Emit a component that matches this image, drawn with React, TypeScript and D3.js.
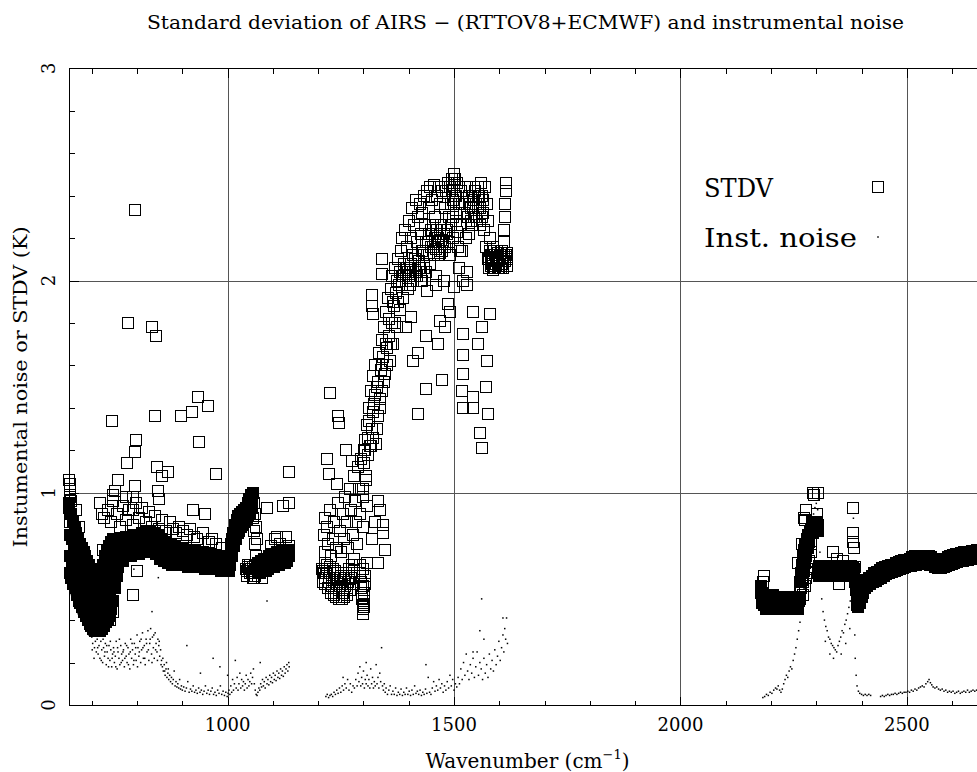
import React from "react";
import * as d3 from "d3";

type P = [number, number];

// ---------- axis definitions ----------
const X_DOMAIN: [number, number] = [650, 2675];
const Y_DOMAIN: [number, number] = [0, 3];
const X_MAJOR = [1000, 1500, 2000, 2500];
const Y_MAJOR = [0, 1, 2, 3];
const X_TICK_LABELS = ["1000", "1500", "2000", "2500"];
const Y_TICK_LABELS = ["0", "1", "2", "3"];

const TITLE = "Standard deviation of AIRS \u2212 (RTTOV8+ECMWF) and instrumental noise";
const Y_TITLE = "Instumental noise or STDV (K)";
const LEGEND = ["STDV", "Inst. noise"];

// ---------- STDV (squares) ----------
// densely over-plotted channels (these overlap into a solid band in the source)
const stdvBand1: P[] = [
  [650,0.95],[651,0.62],[652,0.80],[653,0.70],[654,0.90],[655,0.60],[656,0.78],[657,0.68],[658,0.86],[659,0.57],
  [660,0.74],[661,0.64],[662,0.84],[663,0.55],[664,0.71],[665,0.62],[666,0.81],[667,0.52],[668,0.68],[669,0.60],
  [670,0.78],[671,0.49],[672,0.66],[673,0.58],[674,0.76],[675,0.48],[676,0.64],[677,0.56],[678,0.74],[679,0.46],
  [680,0.62],[681,0.54],[682,0.72],[683,0.44],[684,0.60],[685,0.52],[686,0.70],[687,0.42],[688,0.58],[689,0.50],
  [690,0.68],[691,0.40],[692,0.56],[693,0.48],[694,0.66],[695,0.38],[696,0.54],[697,0.46],[698,0.64],[699,0.37],
  [700,0.52],[701,0.44],[702,0.61],[703,0.36],[704,0.50],[705,0.43],[706,0.58],[707,0.35],[708,0.48],[709,0.42],
  [710,0.55],[711,0.35],[712,0.47],[713,0.41],[714,0.55],[715,0.35],[716,0.48],[717,0.42],[718,0.58],[719,0.35],
  [720,0.50],[721,0.43],[722,0.62],[723,0.36],[724,0.52],[725,0.45],[726,0.66],[727,0.37],[728,0.55],[729,0.47],
  [730,0.70],[731,0.39],[732,0.58],[733,0.49],[734,0.73],[735,0.40],[736,0.61],[737,0.51],[738,0.75],[739,0.42],
  [740,0.63],[741,0.53],[742,0.77],[743,0.45],[744,0.66],[745,0.56],[746,0.78],[747,0.49],[748,0.68],[749,0.59],
  [750,0.78],[751,0.55],[752,0.70],[753,0.62],[754,0.78],[755,0.61],[756,0.72],[757,0.66],[758,0.78],[759,0.65],
  [760,0.73],[761,0.68],
  [763,0.73],[766,0.78],[769,0.68],[772,0.74],[775,0.79],[778,0.70],[781,0.75],[784,0.79],
  [787,0.70],[790,0.75],[793,0.80],[796,0.71],[799,0.76],[802,0.80],[805,0.71],[808,0.76],[811,0.81],[814,0.72],
  [817,0.77],[820,0.82],[823,0.72],[826,0.77],[829,0.82],[832,0.72],[835,0.77],[838,0.81],[841,0.71],[844,0.76],
  [847,0.80],[850,0.69],[853,0.74],[856,0.78],[859,0.68],[862,0.73],[865,0.77],[868,0.67],[871,0.72],[874,0.76],
  [877,0.66],[880,0.71],[883,0.75],[886,0.66],[889,0.70],[892,0.74],[895,0.66],[898,0.70],[901,0.74],[904,0.66],
  [907,0.70],[910,0.73],[913,0.65],[916,0.69],[919,0.73],[922,0.65],[925,0.69],[928,0.73],[931,0.65],[934,0.69],
  [937,0.72],[940,0.65],[943,0.68],[946,0.72],[949,0.64],[952,0.68],[955,0.71],[958,0.64],[961,0.68],[964,0.71],
  [967,0.64],[970,0.67],[973,0.70],[976,0.64],[979,0.67],[982,0.70],[985,0.63],[988,0.66],[991,0.69],[994,0.63],
  [997,0.66],[1000,0.69],[1002,0.63],[1004,0.70],[1006,0.66],[1008,0.76],[1010,0.70],[1012,0.81],[1014,0.75],[1016,0.85],
  [1018,0.78],[1020,0.87],[1022,0.81],[1024,0.89],[1026,0.82],[1028,0.90],[1030,0.84],[1032,0.91],[1034,0.85],[1036,0.92],
  [1038,0.86],[1040,0.93],[1042,0.87],[1044,0.95],[1046,0.89],[1048,0.97],[1050,0.90],[1052,0.99],[1054,0.93],[1056,1.00],
  [1066,0.62],[1068,0.67],[1070,0.64],[1072,0.62],[1074,0.68],[1076,0.65],[1078,0.63],[1080,0.69],[1082,0.65],[1084,0.63],
  [1086,0.69],[1088,0.66],[1090,0.64],[1092,0.70],[1094,0.67],[1096,0.65],[1098,0.71],[1100,0.67],[1102,0.65],[1104,0.71],
  [1106,0.68],[1108,0.66],[1110,0.72],[1112,0.68],[1114,0.66],[1116,0.72],[1118,0.69],[1120,0.67],[1122,0.73],[1124,0.69],
  [1126,0.67],[1128,0.73],[1130,0.70],[1132,0.68],[1134,0.73],[1136,0.70],
  [764.5,0.76],[767.5,0.71],[770.5,0.77],[773.5,0.72],[776.5,0.77],[779.5,0.72],[782.5,0.78],[785.5,0.73],[788.5,0.78],[791.5,0.73],
  [794.5,0.78],[797.5,0.74],[800.5,0.79],[803.5,0.74],[806.5,0.79],[809.5,0.74],[812.5,0.80],[815.5,0.75],[818.5,0.80],[821.5,0.75],
  [824.5,0.80],[827.5,0.75],[830.5,0.80],[833.5,0.74],[836.5,0.79],[839.5,0.74],[842.5,0.79],[845.5,0.73],[848.5,0.78],[851.5,0.72],
  [854.5,0.77],[857.5,0.71],[860.5,0.76],[863.5,0.70],[866.5,0.75],[869.5,0.69],[872.5,0.74],[875.5,0.69],[878.5,0.73],[881.5,0.68],
  [884.5,0.73],[887.5,0.68],[890.5,0.72],[893.5,0.68],[896.5,0.72],[899.5,0.68],[902.5,0.72],[905.5,0.67],[908.5,0.72],[911.5,0.67],
  [914.5,0.71],[917.5,0.67],[920.5,0.71],[923.5,0.67],[926.5,0.71],[929.5,0.67],[932.5,0.70],[935.5,0.66],[938.5,0.70],[941.5,0.66],
  [944.5,0.70],[947.5,0.66],[950.5,0.70],[953.5,0.66],[956.5,0.69],[959.5,0.66],[962.5,0.69],[965.5,0.65],[968.5,0.69],[971.5,0.65],
  [974.5,0.68],[977.5,0.65],[980.5,0.68],[983.5,0.65],[986.5,0.68],[989.5,0.64],[992.5,0.67],[995.5,0.64],[998.5,0.67],
  [1003,0.66],[1005,0.70],[1007,0.72],[1009,0.78],[1011,0.75],[1013,0.80],[1015,0.79],[1017,0.83],[1019,0.82],[1021,0.85],
  [1023,0.85],[1025,0.87],[1027,0.86],[1029,0.88],[1031,0.87],[1033,0.89],[1035,0.88],[1037,0.90],[1039,0.89],[1041,0.91],
  [1043,0.90],[1045,0.93],[1047,0.92],[1049,0.95],[1051,0.94],[1053,0.97],
  [1065,0.65],[1067,0.63],[1069,0.65],[1071,0.66],[1073,0.64],[1075,0.66],[1077,0.67],[1079,0.65],[1081,0.67],[1083,0.68],
  [1085,0.66],[1087,0.68],[1089,0.69],[1091,0.67],[1093,0.69],[1095,0.70],[1097,0.68],[1099,0.70],[1101,0.70],[1103,0.68],
  [1105,0.70],[1107,0.71],[1109,0.69],[1111,0.71],[1113,0.71],[1115,0.69],[1117,0.71],[1119,0.72],[1121,0.70],[1123,0.72],
  [1125,0.72],[1127,0.71],[1129,0.72],[1131,0.73],[1133,0.71],[1135,0.72]
];

// stacked but separately visible channels of band 1
const stdvBand1Column: P[] = [
  [650,1.06],[651,1.02],[652,0.98],[650,0.93],[652,0.90],[651,0.86],[653,1.04],[654,0.96],
  [1057,0.88],[1058,0.95],[1059,0.82],[1060,0.90],[1061,0.76],[1062,0.84],[1063,0.70],[1064,0.78],
  [1040,0.64],[1043,0.61],[1046,0.66],[1049,0.62],[1052,0.64],[1055,0.60],[1058,0.63],[1061,0.66],[1060,0.61],
  [1042,0.63],[1044,0.65],[1047,0.64],[1050,0.66],[1053,0.62],[1056,0.65],[1059,0.60],[1062,0.64],[1064,0.66]
];

const stdvBand1Scatter: P[] = [
  [796,2.33],[780,1.80],[833,1.78],[842,1.74],[745,1.34],[840,1.36],[897,1.36],[922,1.38],[935,1.45],[957,1.41],
  [937,1.24],[974,1.09],[1136,1.10],[798,1.25],[796,1.19],[778,1.14],[844,1.12],[855,1.08],[869,1.10],[758,1.06],
  [800,0.63],[791,0.52],[924,0.92],[950,0.90],[965,0.78],[1087,0.93],[1122,0.94],[1136,0.95],[1109,0.79],[1136,0.75],
  [1076,0.60],[747,0.99],[723,0.90],[725,0.73],[725,0.66],[730,0.70],[847,1.01],[849,0.97],[880,0.83],[902,0.82],[925,0.79],
  [776,0.98],[791,0.98],[796,1.03],[791,0.92],[752,1.01],[747,0.96],
  [718,0.95],[726,0.88],[735,0.92],[742,0.86],[755,0.90],[762,0.84],[768,0.94],[775,0.87],[783,0.92],[790,0.85],
  [798,0.95],[805,0.88],[812,0.93],[820,0.86],[826,0.91],[834,0.84],[840,0.89],[848,0.83],[856,0.87],[864,0.82],
  [872,0.86],[885,0.81],[892,0.84],[910,0.80],[918,0.83],[932,0.78],[945,0.81],[958,0.77],[975,0.76],[988,0.74],
  [1096,0.75],[1104,0.78],[1115,0.76],[1128,0.79],[666,0.92],[672,0.84],[740,0.40],[746,0.44]
];

const stdvBand2: P[] = [
  [1208,0.64],[1210,0.58],[1212,0.62],[1214,0.67],[1216,0.57],[1218,0.62],[1220,0.66],[1222,0.55],[1224,0.60],[1226,0.65],
  [1228,0.53],[1230,0.59],[1232,0.64],[1234,0.52],[1236,0.58],[1238,0.63],[1240,0.51],[1242,0.57],[1244,0.62],[1246,0.50],
  [1248,0.56],[1250,0.61],[1252,0.50],[1254,0.55],[1256,0.60],[1258,0.51],[1260,0.56],[1262,0.62],[1264,0.52],[1266,0.58],
  [1268,0.64],[1270,0.54],[1272,0.60],[1274,0.66],[1276,0.57],[1278,0.63],[1280,0.69],
  [1292,0.66],[1293,0.62],[1294,0.58],[1295,0.55],[1296,0.52],[1297,0.50],[1298,0.47],[1299,0.45],[1300,0.43],[1301,0.49],
  [1302,0.53],[1303,0.57],[1304,0.61],[1300,0.64],[1298,0.56],[1302,0.46],
  [1212,0.80],[1214,0.72],[1216,0.88],[1220,0.84],[1222,0.76],[1226,0.92],[1228,0.70],[1232,0.78],[1236,0.86],[1240,0.74],
  [1244,0.95],[1248,0.82],[1250,0.72],[1254,0.90],[1258,0.78],[1260,0.98],[1264,0.86],[1266,0.74],[1270,1.02],[1272,0.92],
  [1276,0.80],[1278,1.08],[1282,0.96],[1284,0.86],[1286,0.76],[1288,1.12],[1290,1.02],[1292,0.90],[1295,1.16],[1298,0.98],
  [1300,0.84],[1302,1.20],[1305,1.06],[1307,0.94],
  [1300,1.02],[1302,1.14],[1304,1.25],[1306,1.08],[1308,1.32],[1310,1.18],[1312,1.40],[1314,1.22],[1316,1.48],[1318,1.30],
  [1320,1.55],[1322,1.26],[1324,1.42],[1326,1.60],[1328,1.23],[1330,1.50],[1332,1.36],[1334,1.66],[1336,1.44],[1338,1.58],
  [1340,1.72],[1342,1.48],[1344,1.64],[1346,1.78],[1348,1.56],[1350,1.85],[1352,1.68],[1354,1.92],[1356,1.74],[1358,1.62],
  [1360,1.96],[1362,1.80],[1364,2.02],[1366,1.70],[1368,1.88],[1370,2.06],[1372,1.94],[1374,1.78],[1376,2.10],[1378,1.98],
  [1380,1.86],[1382,2.14],[1384,2.00],[1386,2.20],[1388,1.92],[1390,2.08],[1392,2.24],[1394,2.02],[1396,2.16],[1398,1.96],
  [1400,2.28],[1402,2.06],[1404,2.20],[1406,2.00],[1408,2.34],[1410,2.12],[1412,2.26],[1414,2.02],[1416,2.38],[1418,2.18],
  [1420,2.30],[1422,2.06],[1424,2.36],[1426,2.22],[1428,2.00],[1430,2.32],[1432,2.14],[1434,2.40],[1436,2.26],[1438,2.04],
  [1440,2.42],[1442,2.18],[1444,2.34],[1446,2.08],[1448,2.44],[1450,2.24],[1452,2.38],[1454,2.16],[1456,2.45],[1458,2.30],
  [1460,2.02],[1462,2.40],[1464,2.20],[1466,2.44],[1468,2.14],[1470,2.36],[1472,2.26],[1474,2.42],[1476,2.18],[1478,2.00],
  [1480,2.34],[1482,2.42],[1484,2.22],[1486,2.46],[1488,2.30],[1490,2.12],[1492,2.44],[1494,2.36],[1496,2.48],[1498,2.20],
  [1500,2.50],[1502,2.40],[1504,2.28],[1506,2.46],[1508,2.16],[1510,2.36],[1512,2.06],[1514,2.26],[1516,2.42],[1518,2.14],
  [1520,2.00],[1522,2.32],[1524,2.44],[1526,2.20],[1528,2.04],[1530,2.30],[1532,2.40],[1534,2.22],[1536,2.44],[1538,2.34],
  [1540,2.26],[1542,2.40],[1544,2.30],[1546,2.42],[1548,2.36],[1550,2.28],[1552,2.44],[1554,2.34],[1556,2.40],[1558,2.26],
  [1560,2.46],[1562,2.30],[1564,2.38],[1566,2.24],[1568,2.44],[1570,2.16],[1572,2.36],[1574,2.10],[1576,2.28],[1578,2.06],
  [1580,2.20],[1582,2.12],[1584,2.08],[1586,2.16],[1588,2.06],[1590,2.12],[1592,2.08],[1594,2.14],[1596,2.06],[1598,2.10],
  [1600,2.08],[1602,2.12],[1604,2.06],[1606,2.14],[1608,2.09],[1610,2.18],[1611,2.24],[1612,2.30],[1613,2.36],[1614,2.42],
  [1615,2.46],[1616,2.11],[1617,2.07],[1618,2.13],
  [1303,1.20],[1309,1.26],[1313,1.34],[1317,1.22],[1321,1.38],[1325,1.46],[1329,1.30],[1333,1.52],[1337,1.40],[1341,1.60],
  [1345,1.52],[1349,1.70],[1353,1.60],[1357,1.82],[1361,1.70],[1365,1.90],[1369,1.80],[1373,2.00],[1377,1.90],[1381,2.04],
  [1385,1.98],[1389,2.04],[1393,2.00],[1397,2.06],[1401,2.02],[1405,2.08],[1409,2.04],[1413,2.10],[1417,2.04],[1421,2.12],
  [1425,2.06],[1429,2.14],[1433,2.08],[1437,2.18],[1441,2.12],[1445,2.22],[1449,2.16],[1453,2.26],[1457,2.18],[1461,2.24],
  [1465,2.16],[1469,2.22],[1473,2.14],[1477,2.22],[1481,2.16],[1485,2.24],[1489,2.18],[1493,2.26],[1497,2.30],[1501,2.36],
  [1505,2.32],
  [1211,0.63],[1215,0.60],[1219,0.64],[1223,0.58],[1227,0.62],[1231,0.56],[1235,0.60],[1239,0.55],[1243,0.59],[1247,0.54],
  [1251,0.58],[1255,0.53],[1259,0.58],[1263,0.55],[1267,0.60],[1271,0.57],[1275,0.62],
  [1386,2.02],[1390,2.06],[1394,2.00],[1398,2.04],[1402,1.98],[1406,2.05],[1410,2.00],[1414,2.07],[1418,2.02],[1422,2.09],
  [1426,2.04],[1430,2.00],[1434,2.06],
  [1456,2.12],[1458,2.20],[1460,2.15],[1462,2.24],[1464,2.12],[1466,2.18],[1468,2.22],[1470,2.13],[1472,2.19],
  [1495,2.42],[1497,2.38],[1499,2.45],[1501,2.44],[1503,2.48],[1505,2.40],
  [1533,2.36],[1537,2.28],[1541,2.34],[1545,2.38],[1549,2.30],[1553,2.40],[1557,2.34],[1561,2.40],[1565,2.32],
  [1577,2.10],[1579,2.14],[1581,2.07],[1583,2.12],[1585,2.05],[1587,2.10],[1589,2.14],[1591,2.06],[1593,2.11],[1595,2.09],
  [1597,2.13],[1599,2.06],[1601,2.10],[1603,2.13],[1605,2.08],[1607,2.11],[1609,2.06],[1611,2.12],[1613,2.09],[1615,2.12],
  [1617,2.10]
];

const stdvBand2Scatter: P[] = [
  [1226,1.47],[1244,1.36],[1245,1.33],[1220,1.16],[1224,1.09],[1261,1.20],[1274,1.15],[1241,1.04],[1319,1.88],[1321,1.84],
  [1319,1.93],[1341,2.10],[1341,2.03],[1332,0.67],[1348,0.73],[1343,0.81],[1343,0.85],[1332,0.96],[1336,0.92],[1308,0.67],
  [1318,0.78],[1325,0.86],[1420,1.66],[1438,1.74],[1465,1.70],[1473,1.53],[1438,1.49],[1420,1.37],[1487,1.89],[1469,1.81],
  [1480,1.78],[1520,1.75],[1520,1.65],[1520,1.56],[1518,1.48],[1520,1.40],[1542,1.40],[1542,1.45],[1570,1.50],[1575,1.37],
  [1557,1.28],[1561,1.21],[1561,1.78],[1553,1.70],[1572,1.62],[1542,1.85],[1580,1.84],[1491,1.85],[1513,2.14],[1506,2.23],
  [1500,1.97],[1528,1.98],[1460,1.98],[1440,1.95],[1405,1.83],[1395,1.78],[1410,1.62]
];

// densely over-plotted channels of band 3
const stdvBand3: P[] = [
  [2178,0.56],[2180,0.50],[2182,0.53],[2184,0.47],[2186,0.51],[2188,0.45],[2190,0.49],[2192,0.52],[2194,0.45],[2196,0.48],
  [2198,0.52],[2200,0.45],[2202,0.49],[2204,0.52],[2206,0.45],[2208,0.48],[2210,0.51],[2212,0.45],[2214,0.48],[2216,0.51],
  [2218,0.45],[2220,0.48],[2222,0.51],[2224,0.45],[2226,0.48],[2228,0.51],[2230,0.45],[2232,0.48],[2234,0.51],[2236,0.45],
  [2238,0.47],[2240,0.51],[2242,0.45],[2244,0.47],[2246,0.51],[2248,0.45],[2250,0.47],[2252,0.50],[2254,0.45],[2256,0.47],
  [2258,0.50],[2260,0.45],[2262,0.49],
  [2264,0.58],[2266,0.62],[2268,0.66],[2270,0.70],[2272,0.63],[2273,0.73],[2275,0.67],[2276,0.76],[2278,0.70],[2279,0.78],
  [2281,0.74],[2282,0.80],[2284,0.77],[2286,0.82],[2290,0.84],
  [2289,0.83],[2291,0.86],[2292,0.81],[2293,0.85],[2294,0.83],[2295,0.86],[2296,0.82],[2297,0.85],[2298,0.83],[2299,0.86],
  [2300,0.82],[2301,0.85],[2302,0.83],[2303,0.85],[2304,0.82],
  [2305,0.655],[2307,0.61],[2309,0.63],[2311,0.655],[2313,0.61],[2315,0.63],[2317,0.655],[2319,0.61],[2321,0.63],[2323,0.655],
  [2325,0.61],[2327,0.63],[2329,0.655],[2331,0.61],[2333,0.63],[2335,0.655],[2337,0.61],[2339,0.63],[2341,0.655],[2343,0.61],
  [2345,0.63],[2347,0.655],[2349,0.61],[2351,0.63],[2353,0.655],[2355,0.61],[2357,0.63],[2359,0.655],[2361,0.61],[2363,0.63],
  [2365,0.655],[2367,0.61],[2369,0.63],[2371,0.655],[2373,0.61],[2375,0.63],[2377,0.655],[2379,0.61],[2381,0.63],[2383,0.64],
  [2385,0.58],[2387,0.54],[2389,0.50],[2390,0.47],
  [2392,0.46],[2394,0.50],[2396,0.48],[2398,0.53],[2400,0.51],[2402,0.56],[2404,0.53],[2406,0.575],[2408,0.55],[2410,0.59],
  [2413,0.56],[2416,0.60],[2419,0.57],[2422,0.61],[2425,0.58],[2428,0.62],[2431,0.585],[2434,0.625],[2437,0.595],[2440,0.635],
  [2443,0.60],[2446,0.645],[2449,0.61],[2452,0.65],[2455,0.615],[2458,0.655],[2461,0.62],[2464,0.66],[2467,0.625],[2470,0.66],
  [2473,0.63],[2476,0.67],[2479,0.635],[2482,0.675],[2485,0.64],[2488,0.68],[2491,0.645],[2494,0.685],[2497,0.65],[2500,0.685],
  [2503,0.655],[2506,0.69],[2509,0.655],[2512,0.695],[2515,0.66],[2518,0.70],[2521,0.66],[2524,0.70],[2527,0.665],[2530,0.70],
  [2533,0.665],[2536,0.70],[2539,0.665],[2542,0.70],[2545,0.665],[2548,0.70],[2551,0.66],[2554,0.695],[2557,0.66],[2560,0.69],
  [2563,0.65],[2566,0.685],[2569,0.645],[2572,0.68],[2575,0.645],[2578,0.685],[2581,0.65],[2584,0.69],[2587,0.655],[2590,0.695],
  [2593,0.66],[2596,0.70],[2599,0.665],[2602,0.705],[2605,0.67],[2608,0.71],[2611,0.675],[2614,0.71],[2617,0.68],[2620,0.715],
  [2623,0.68],[2626,0.72],[2629,0.685],[2632,0.72],[2635,0.685],[2638,0.72],[2641,0.69],[2644,0.725],[2647,0.69],[2650,0.725],
  [2653,0.69],[2656,0.73],[2659,0.695],[2662,0.73],[2665,0.70],
  [2179,0.53],[2181,0.48],[2183,0.51],[2185,0.49],[2187,0.47],[2189,0.51],[2191,0.47],[2193,0.49],[2195,0.51],[2197,0.46],
  [2199,0.49],[2201,0.51],[2203,0.46],[2205,0.49],[2207,0.51],[2209,0.46],[2211,0.49],[2213,0.51],[2215,0.46],[2217,0.49],
  [2219,0.51],[2221,0.46],[2223,0.49],[2225,0.51],[2227,0.46],[2229,0.49],[2231,0.51],[2233,0.46],[2235,0.49],[2237,0.50],
  [2239,0.46],[2241,0.49],[2243,0.50],[2245,0.46],[2247,0.49],[2249,0.50],[2251,0.46],[2253,0.48],[2255,0.50],[2257,0.46],
  [2259,0.48],[2261,0.51],
  [2306,0.635],[2308,0.645],[2310,0.62],[2312,0.635],[2314,0.645],[2316,0.62],[2318,0.635],[2320,0.645],[2322,0.62],[2324,0.635],
  [2326,0.645],[2328,0.62],[2330,0.635],[2332,0.645],[2334,0.62],[2336,0.635],[2338,0.645],[2340,0.62],[2342,0.635],[2344,0.645],
  [2346,0.62],[2348,0.635],[2350,0.645],[2352,0.62],[2354,0.635],[2356,0.645],[2358,0.62],[2360,0.635],[2362,0.645],[2364,0.62],
  [2366,0.635],[2368,0.645],[2370,0.62],[2372,0.635],[2374,0.645],[2376,0.62],[2378,0.635],[2380,0.645],[2382,0.62],[2384,0.61],
  [2393,0.48],[2395,0.49],[2397,0.51],[2399,0.52],[2401,0.535],[2403,0.545],[2405,0.555],[2407,0.56],[2409,0.57],[2411.5,0.575],
  [2414.5,0.58],[2417.5,0.585],[2420.5,0.59],[2423.5,0.595],[2426.5,0.60],[2429.5,0.605],[2432.5,0.605],[2435.5,0.61],[2438.5,0.615],[2441.5,0.62],
  [2444.5,0.625],[2447.5,0.625],[2450.5,0.63],[2453.5,0.635],[2456.5,0.635],[2459.5,0.64],[2462.5,0.64],[2465.5,0.645],[2468.5,0.645],[2471.5,0.65],
  [2474.5,0.65],[2477.5,0.655],[2480.5,0.655],[2483.5,0.66],[2486.5,0.66],[2489.5,0.665],[2492.5,0.665],[2495.5,0.67],[2498.5,0.67],[2501.5,0.67],
  [2504.5,0.675],[2507.5,0.675],[2510.5,0.675],[2513.5,0.68],[2516.5,0.68],[2519.5,0.68],[2522.5,0.685],[2525.5,0.685],[2528.5,0.685],[2531.5,0.685],
  [2534.5,0.685],[2537.5,0.685],[2540.5,0.685],[2543.5,0.685],[2546.5,0.685],[2549.5,0.68],[2552.5,0.68],[2555.5,0.675],[2558.5,0.675],[2561.5,0.67],
  [2564.5,0.665],[2567.5,0.665],[2570.5,0.66],[2573.5,0.66],[2576.5,0.665],[2579.5,0.665],[2582.5,0.67],[2585.5,0.67],[2588.5,0.675],[2591.5,0.68],
  [2594.5,0.68],[2597.5,0.685],[2600.5,0.685],[2603.5,0.69],[2606.5,0.69],[2609.5,0.695],[2612.5,0.695],[2615.5,0.695],[2618.5,0.70],[2621.5,0.70],
  [2624.5,0.70],[2627.5,0.705],[2630.5,0.705],[2633.5,0.705],[2636.5,0.705],[2639.5,0.71],[2642.5,0.71],[2645.5,0.71],[2648.5,0.71],[2651.5,0.71],
  [2654.5,0.715],[2657.5,0.715],[2660.5,0.715],[2663.5,0.715]
];

// individually visible squares at the foot of the band-3 rise
const stdvBand3Rise: P[] = [
  [2263,0.53],[2265,0.50],[2267,0.55],[2269,0.59],[2271,0.52],[2274,0.56],[2277,0.60],[2280,0.64],[2283,0.68],[2288,0.72]
];

const stdvBand3Scatter: P[] = [
  [2292,1.00],[2303,1.00],[2296,0.99],[2277,0.92],[2301,0.90],[2275,0.87],[2273,0.88],[2381,0.93],[2381,0.81],[2381,0.77],
  [2383,0.74],[2337,0.72],[2350,0.57],[2385,0.65],[2184,0.61],[2182,0.58],[2268,0.76],[2259,0.67],[2288,0.76],[2345,0.69],
  [2360,0.68],[2270,0.58],[2280,0.62]
];

// ---------- Instrumental noise (dots) ----------
const noiseBand1: P[] = [
  [652,0.56],[655,0.52],[658,0.58],[661,0.50],[664,0.47],[667,0.52],[670,0.45],[673,0.48],[676,0.42],[679,0.44],
  [682,0.40],[685,0.38],[688,0.36],[691,0.37],[694,0.33],[697,0.34],[700,0.32],[702,0.29],[704,0.33],[706,0.27],
  [708,0.30],[710,0.25],[712,0.31],[714,0.24],[716,0.28],[718,0.22],[720,0.30],[722,0.26],[724,0.20],[726,0.27],
  [728,0.23],[730,0.29],[732,0.19],[734,0.25],[736,0.22],[738,0.28],[740,0.21],[742,0.26],[744,0.18],[746,0.24],
  [748,0.27],[750,0.20],[752,0.23],[754,0.30],[756,0.17],[758,0.25],[760,0.22],[762,0.19],[764,0.28],[766,0.24],
  [768,0.21],[770,0.26],[772,0.18],[774,0.29],[776,0.23],[778,0.20],[780,0.27],[782,0.24],[784,0.17],[786,0.31],
  [788,0.22],[790,0.26],[792,0.19],[794,0.29],[796,0.24],[798,0.21],[800,0.33],[802,0.27],[804,0.23],[806,0.30],
  [808,0.20],[810,0.26],[812,0.34],[814,0.22],[816,0.28],[818,0.19],[820,0.31],[822,0.25],[824,0.35],[826,0.21],
  [828,0.29],[830,0.36],[832,0.24],[834,0.32],[836,0.27],[838,0.22],[840,0.34],[842,0.29],[844,0.25],[846,0.31],
  [848,0.28],[850,0.23],[852,0.26],[854,0.21],[856,0.18],[858,0.16],[860,0.19],[862,0.14],[864,0.17],[866,0.13],
  [868,0.15],[870,0.12],[872,0.14],[874,0.11],[876,0.13],[878,0.10],[880,0.12],[882,0.16],[884,0.09],[886,0.11],
  [888,0.085],[890,0.10],[892,0.08],[894,0.12],[896,0.075],[898,0.09],[900,0.07],[903,0.085],[906,0.065],[909,0.08],
  [912,0.11],[915,0.06],[918,0.075],[921,0.065],[924,0.09],[927,0.06],[930,0.07],[933,0.055],[936,0.08],[939,0.06],
  [942,0.07],[945,0.05],[948,0.065],[951,0.09],[954,0.055],[957,0.07],[960,0.05],[963,0.065],[966,0.08],[969,0.05],
  [972,0.06],[975,0.045],[978,0.07],[981,0.055],[984,0.09],[987,0.05],[990,0.065],[993,0.045],[996,0.06],[999,0.04],
  [1001,0.055],[1003,0.07],[1005,0.05],[1007,0.09],[1009,0.06],[1011,0.12],[1013,0.07],[1015,0.10],[1017,0.21],[1019,0.08],
  [1021,0.13],[1023,0.07],[1025,0.10],[1027,0.15],[1029,0.08],[1031,0.12],[1033,0.09],[1035,0.11],[1037,0.07],[1039,0.10],
  [1041,0.14],[1043,0.08],[1045,0.12],[1047,0.09],[1049,0.11],[1051,0.15],[1053,0.10],[1055,0.13],[1057,0.17],[1059,0.10],
  [1061,0.07],[1063,0.05],[1065,0.045],[1067,0.06],[1069,0.08],[1071,0.07],[1073,0.10],[1075,0.085],[1077,0.12],[1079,0.09],
  [1081,0.11],[1083,0.08],[1085,0.13],[1087,0.10],[1089,0.12],[1091,0.095],[1093,0.14],[1095,0.11],[1097,0.13],[1099,0.105],
  [1101,0.15],[1103,0.12],[1105,0.14],[1107,0.115],[1109,0.16],[1111,0.13],[1113,0.15],[1115,0.125],[1117,0.17],[1119,0.14],
  [1121,0.16],[1123,0.135],[1125,0.18],[1127,0.15],[1129,0.17],[1131,0.19],[1133,0.16],[1135,0.20],[1136,0.18],
  [701,0.26],[705,0.22],[709,0.34],[713,0.27],[717,0.33],[721,0.21],[725,0.31],[729,0.25],[733,0.28],[737,0.18],
  [741,0.30],[745,0.22],[749,0.25],[753,0.18],[757,0.27],[761,0.31],[765,0.20],[769,0.25],[773,0.22],[777,0.28],
  [781,0.19],[785,0.25],[789,0.29],[793,0.21],[797,0.27],[801,0.18],[805,0.25],[809,0.31],[813,0.27],[817,0.22],
  [821,0.29],[825,0.26],[829,0.31],[833,0.20],[837,0.33],[841,0.26],[845,0.21],[849,0.30],[853,0.19],[857,0.22],
  [861,0.16],[865,0.20],[869,0.17],
  [833,0.44],[847,0.60],[793,0.64],[1087,0.49],[910,0.28],[968,0.22],[983,0.18],[1000,0.14],[1072,0.20],[940,0.15],
  [668,0.49],[670,0.43]
];

const noiseBand2: P[] = [
  [1217,0.04],[1220,0.05],[1223,0.035],[1226,0.045],[1229,0.05],[1232,0.04],[1235,0.06],[1238,0.05],[1241,0.07],[1244,0.055],
  [1247,0.08],[1250,0.06],[1253,0.09],[1256,0.07],[1259,0.10],[1262,0.08],[1265,0.12],[1268,0.07],[1271,0.10],[1274,0.06],
  [1277,0.09],[1280,0.08],[1283,0.12],[1286,0.09],[1288,0.15],[1290,0.11],[1292,0.18],[1294,0.09],[1296,0.13],[1298,0.10],
  [1300,0.16],[1302,0.08],[1304,0.12],[1306,0.10],[1308,0.14],[1310,0.09],[1312,0.12],[1314,0.08],[1316,0.17],[1318,0.10],
  [1320,0.13],[1322,0.08],[1324,0.11],[1326,0.09],[1328,0.19],[1330,0.10],[1332,0.13],[1334,0.08],[1336,0.15],[1338,0.11],
  [1340,0.27],[1342,0.09],[1344,0.07],[1346,0.10],[1348,0.06],[1350,0.08],[1353,0.05],[1356,0.07],[1359,0.09],[1362,0.05],
  [1365,0.065],[1368,0.05],[1371,0.08],[1374,0.045],[1377,0.06],[1380,0.05],[1383,0.075],[1386,0.045],[1389,0.06],[1392,0.05],
  [1395,0.08],[1398,0.05],[1401,0.065],[1404,0.045],[1407,0.07],[1410,0.05],[1413,0.09],[1416,0.055],[1419,0.065],[1422,0.05],
  [1425,0.07],[1428,0.045],[1431,0.06],[1434,0.05],[1437,0.075],[1440,0.055],[1443,0.13],[1446,0.06],[1449,0.05],[1452,0.08],
  [1455,0.11],[1458,0.065],[1461,0.09],[1464,0.07],[1467,0.12],[1470,0.08],[1473,0.10],[1476,0.06],[1479,0.09],[1482,0.07],
  [1485,0.11],[1488,0.08],[1491,0.14],[1494,0.09],[1497,0.12],[1500,0.07],[1503,0.10],[1506,0.085],[1509,0.13],[1512,0.10],
  [1515,0.17],[1518,0.12],[1521,0.20],[1524,0.14],[1527,0.24],[1530,0.16],[1533,0.12],[1536,0.19],[1539,0.15],[1542,0.22],
  [1545,0.13],[1548,0.18],[1551,0.25],[1554,0.14],[1557,0.20],[1560,0.17],[1563,0.12],[1566,0.22],[1569,0.15],[1572,0.19],
  [1575,0.13],[1578,0.24],[1581,0.17],[1584,0.21],[1587,0.16],[1590,0.26],[1593,0.19],[1596,0.23],[1599,0.30],[1602,0.21],
  [1605,0.27],[1608,0.33],[1610,0.25],[1612,0.36],[1614,0.31],[1616,0.41],[1618,0.29],
  [1561,0.50],[1557,0.35],[1566,0.31],[1608,0.41],[1542,0.25],[1438,0.19],[1306,0.20],[1255,0.13]
];

const noiseBand3: P[] = [
  [2182,0.035],[2186,0.04],[2190,0.05],[2194,0.045],[2198,0.06],[2202,0.055],[2206,0.07],[2210,0.08],[2213,0.075],[2216,0.09],
  [2219,0.07],[2222,0.06],[2225,0.075],[2228,0.10],[2231,0.12],[2234,0.14],[2237,0.13],[2240,0.16],[2243,0.18],[2246,0.17],
  [2249,0.21],[2252,0.24],[2255,0.27],[2258,0.31],[2261,0.35],[2264,0.39],[2267,0.44],[2270,0.49],[2273,0.55],[2276,0.60],
  [2279,0.66],[2282,0.72],[2285,0.77],[2288,0.82],[2291,0.86],[2294,0.90],[2297,0.93],[2300,0.95],[2303,0.92],[2305,0.97],
  [2306,0.84],[2308,0.72],[2310,0.60],[2312,0.50],[2315,0.44],[2318,0.40],[2321,0.37],[2324,0.35],[2327,0.32],[2330,0.31],
  [2333,0.29],[2336,0.28],[2339,0.27],[2342,0.26],[2345,0.25],[2348,0.28],[2351,0.30],[2354,0.32],[2357,0.35],[2360,0.34],
  [2363,0.38],[2366,0.40],[2369,0.43],[2372,0.46],[2375,0.49],[2378,0.53],[2381,0.58],[2382,0.88],[2384,0.45],[2385,0.33],
  [2386,0.22],[2388,0.14],[2390,0.09],[2393,0.065],[2396,0.055],[2400,0.05],[2404,0.045],[2408,0.05],[2412,0.045],[2416,0.05],
  [2420,0.045],[2442,0.04],[2446,0.045],[2450,0.04],[2454,0.045],[2458,0.05],[2462,0.045],[2466,0.05],[2470,0.05],[2474,0.055],
  [2478,0.05],[2482,0.055],[2486,0.06],[2490,0.055],[2494,0.06],[2498,0.06],[2502,0.065],[2506,0.06],[2510,0.07],[2514,0.065],
  [2518,0.075],[2522,0.07],[2526,0.08],[2530,0.085],[2534,0.09],[2538,0.085],[2542,0.10],[2546,0.11],[2549,0.12],[2552,0.105],
  [2555,0.095],[2558,0.085],[2562,0.08],[2566,0.085],[2570,0.075],[2574,0.07],[2578,0.075],[2582,0.065],[2586,0.07],[2590,0.06],
  [2594,0.065],[2598,0.06],[2602,0.065],[2606,0.055],[2610,0.06],[2614,0.065],[2618,0.055],[2622,0.06],[2626,0.065],[2630,0.06],
  [2634,0.07],[2638,0.06],[2642,0.065],[2646,0.07],[2650,0.065],[2654,0.07],[2658,0.065],[2662,0.07],
  [2320,0.30],[2330,0.24],[2338,0.22],[2355,0.24],[2365,0.29],[2374,0.36]
];

// dense, fully over-plotted runs: drawn solid (their outlines merge into a black band)
const STDV_DENSE: P[] = [...stdvBand1, ...stdvBand3];
// squares that remain individually visible
const STDV_OPEN: P[] = [
  ...stdvBand1Column, ...stdvBand1Scatter, ...stdvBand2, ...stdvBand2Scatter, ...stdvBand3Rise, ...stdvBand3Scatter
];
const NOISE_ALL: P[] = [...noiseBand1, ...noiseBand2, ...noiseBand3];

const FONT = "'DejaVu Serif', serif";

export default function App() {
  const left = 69.13, right = 986.1, top = 68.3, bottom = 705;
  const x = d3.scaleLinear().domain(X_DOMAIN).range([left, right]);
  const y = d3.scaleLinear().domain(Y_DOMAIN).range([bottom, top]);
  const px = (v: number) => Math.round(x(v)) + 0.5;
  const py = (v: number) => Math.round(y(v)) + 0.5;

  const xMinor = d3.range(700, 2700, 100).filter((v) => !X_MAJOR.includes(v));
  const yMinor = d3.range(0.2, 3, 0.2).filter((v) => Math.abs(v - Math.round(v)) > 1e-6);
  const SQ = 11;

  const L = Math.round(left) + 0.5, R = Math.round(right) + 0.5, T = Math.round(top) + 0.5, B = Math.round(bottom) + 0.5;

  return (
    <>
      <style>{`html,body{margin:0;padding:0;background:#fff;} svg{display:block;}`}</style>
      <svg width={977} height={772} viewBox="0 0 977 772" style={{ fontFamily: FONT }}>
        <rect x={0} y={0} width={977} height={772} fill="#fff" />
        {/* grid */}
        <g stroke="#555" strokeWidth={1} shapeRendering="crispEdges">
          {X_MAJOR.map((v) => (
            <line key={"gx" + v} x1={px(v)} x2={px(v)} y1={T} y2={B} />
          ))}
          {Y_MAJOR.slice(1, 3).map((v) => (
            <line key={"gy" + v} x1={L} x2={R} y1={py(v)} y2={py(v)} />
          ))}
        </g>
        {/* ticks */}
        <g stroke="#000" strokeWidth={1} shapeRendering="crispEdges">
          {xMinor.map((v) => (
            <g key={"xm" + v}>
              <line x1={px(v)} x2={px(v)} y1={B} y2={B - 5} />
              <line x1={px(v)} x2={px(v)} y1={T} y2={T + 5} />
            </g>
          ))}
          {X_MAJOR.map((v) => (
            <g key={"xM" + v}>
              <line x1={px(v)} x2={px(v)} y1={B} y2={B - 9} />
              <line x1={px(v)} x2={px(v)} y1={T} y2={T + 9} />
            </g>
          ))}
          {yMinor.map((v) => (
            <g key={"ym" + v}>
              <line x1={L} x2={L + 5} y1={py(v)} y2={py(v)} />
              <line x1={R} x2={R - 5} y1={py(v)} y2={py(v)} />
            </g>
          ))}
          {Y_MAJOR.map((v) => (
            <g key={"yM" + v}>
              <line x1={L} x2={L + 9} y1={py(v)} y2={py(v)} />
              <line x1={R} x2={R - 9} y1={py(v)} y2={py(v)} />
            </g>
          ))}
        </g>
        {/* frame */}
        <rect x={L} y={T} width={R - L} height={B - T} fill="none" stroke="#000" strokeWidth={1} shapeRendering="crispEdges" />

        {/* STDV squares */}
        <g fill="#000" stroke="#000" strokeWidth={1} shapeRendering="crispEdges">
          {STDV_DENSE.map(([wx, v], i) => (
            <rect key={"d" + i} x={Math.round(x(wx)) - 5.5} y={Math.round(y(v)) - 5.5} width={SQ} height={SQ} />
          ))}
        </g>
        <g fill="none" stroke="#000" strokeWidth={1} shapeRendering="crispEdges">
          {STDV_OPEN.map(([wx, v], i) => (
            <rect key={"s" + i} x={Math.round(x(wx)) - 5.5} y={Math.round(y(v)) - 5.5} width={SQ} height={SQ} />
          ))}
        </g>
        {/* noise dots */}
        <g fill="#000">
          {NOISE_ALL.map(([wx, v], i) => (
            <rect key={"n" + i} x={x(wx) - 0.75} y={y(v) - 0.75} width={1.5} height={1.5} />
          ))}
        </g>

        {/* tick labels */}
        <g fontSize={18} fill="#000">
          {X_MAJOR.map((v, i) => (
            <text key={"xl" + v} x={x(v)} y={731} textAnchor="middle">{X_TICK_LABELS[i]}</text>
          ))}
          {Y_MAJOR.map((v, i) => (
            <text key={"yl" + v} transform={`translate(55,${y(v)}) rotate(-90)`} textAnchor="middle">{Y_TICK_LABELS[i]}</text>
          ))}
        </g>

        {/* titles */}
        <text x={525.5} y={29} fontSize={19} textAnchor="middle" textLength={757} lengthAdjust="spacingAndGlyphs">{TITLE}</text>
        <text transform="translate(27,387) rotate(-90)" fontSize={19} textAnchor="middle" textLength={321} lengthAdjust="spacingAndGlyphs">{Y_TITLE}</text>
        <text x={527.5} y={768} fontSize={20} textAnchor="middle">
          Wavenumber (cm<tspan fontSize={13} dy={-9}>{"\u22121"}</tspan><tspan dy={9}>)</tspan>
        </text>

        {/* legend */}
        <text x={704} y={197} fontSize={26} textLength={69} lengthAdjust="spacingAndGlyphs">{LEGEND[0]}</text>
        <text x={704} y={247} fontSize={26} textLength={153} lengthAdjust="spacingAndGlyphs">{LEGEND[1]}</text>
        <rect x={877.5 - 5.5} y={186.5 - 5.5} width={SQ} height={SQ} fill="none" stroke="#000" strokeWidth={1} shapeRendering="crispEdges" />
        <rect x={877.25} y={236.25} width={1.5} height={1.5} fill="#000" />
      </svg>
    </>
  );
}
